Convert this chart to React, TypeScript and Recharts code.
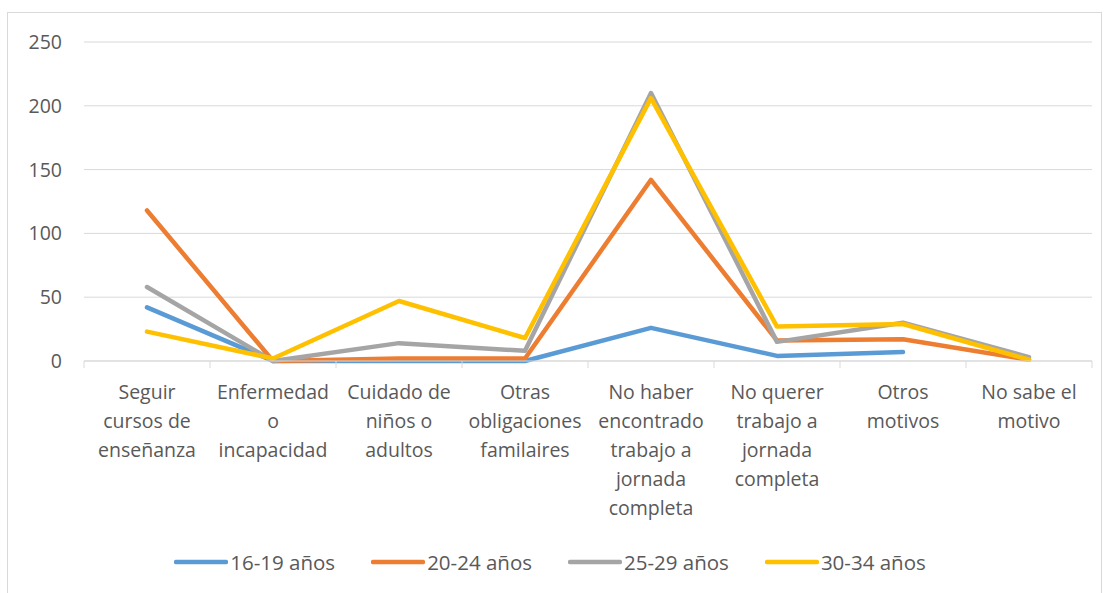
import * as React from 'react';
import { LineChart, Line, XAxis, YAxis, CartesianGrid, Legend } from 'recharts';

const CATEGORIES = [
  'Seguir cursos de enseñanza',
  'Enfermedad o incapacidad',
  'Cuidado de niños o adultos',
  'Otras obligaciones familaires',
  'No haber encontrado trabajo a jornada completa',
  'No querer trabajo a jornada completa',
  'Otros motivos',
  'No sabe el motivo',
];

// how each category label is wrapped under the axis
const CATEGORY_LINES = [
  ['Seguir', 'cursos de', 'enseñanza'],
  ['Enfermedad', 'o', 'incapacidad'],
  ['Cuidado de', 'niños o', 'adultos'],
  ['Otras', 'obligaciones', 'familaires'],
  ['No haber', 'encontrado', 'trabajo a', 'jornada', 'completa'],
  ['No querer', 'trabajo a', 'jornada', 'completa'],
  ['Otros', 'motivos'],
  ['No sabe el', 'motivo'],
];

const AGES_16_19 = [42, 0, 0, 0, 26, 4, 7, null];
const AGES_20_24 = [118, 0, 2, 2, 142, 16, 17, 1];
const AGES_25_29 = [58, 0, 14, 8, 210, 15, 30, 3];
const AGES_30_34 = [23, 2, 47, 18, 206, 27, 29, 1];

const Y_TICKS = [0, 50, 100, 150, 200, 250];

const SERIES = [
  { key: 'a', name: '16-19 años', values: AGES_16_19, color: '#5B9BD5' },
  { key: 'b', name: '20-24 años', values: AGES_20_24, color: '#ED7D31' },
  { key: 'c', name: '25-29 años', values: AGES_25_29, color: '#A5A5A5' },
  { key: 'd', name: '30-34 años', values: AGES_30_34, color: '#FFC000' },
];

const FONT = '"Open Sans", sans-serif';
const TEXT = '#595959';

const data = CATEGORIES.map((name, i) => {
  const row: any = { x: i + 0.5, name };
  SERIES.forEach((s) => {
    row[s.key] = s.values[i];
  });
  return row;
});

// ticks at band edges (integers) draw a tick mark, ticks at band centres draw the label
const X_TICKS: number[] = [];
for (let i = 0; i <= CATEGORIES.length * 2; i++) X_TICKS.push(i / 2);

function CategoryTick(props: any) {
  const { x, y, payload } = props;
  const v = payload.value;
  if (Number.isInteger(v)) {
    return <line x1={x} x2={x} y1={y} y2={y + 7} stroke="#d9d9d9" strokeWidth={1} />;
  }
  const lines = CATEGORY_LINES[Math.floor(v)] || [];
  return (
    <text x={x} y={y} textAnchor="middle" fill={TEXT} fontFamily={FONT} fontSize={19.5}>
      {lines.map((l, i) => (
        <tspan key={i} x={x} dy={i === 0 ? 38 : 29}>
          {l}
        </tspan>
      ))}
    </text>
  );
}

function LegendRow(props: any) {
  const items = props.payload || [];
  return (
    <div style={{ display: 'flex', justifyContent: 'center', gap: 36, fontFamily: FONT, fontSize: 20.5, color: TEXT }}>
      {items.map((it: any) => (
        <div key={it.value} style={{ display: 'flex', alignItems: 'center' }}>
          <svg width={54} height={10} style={{ marginRight: 2 }}>
            <line x1={2} x2={52} y1={5} y2={5} stroke={it.color} strokeWidth={4.5} strokeLinecap="round" />
          </svg>
          <span>{it.value}</span>
        </div>
      ))}
    </div>
  );
}

export default function App() {
  return (
    <div
      style={{
        position: 'absolute',
        left: 7,
        top: 12,
        width: 1093,
        height: 590,
        border: '1px solid #d9d9d9',
        background: '#fff',
      }}
    >
      <LineChart
        width={1093}
        height={578}
        data={data}
        margin={{ top: 29, right: 9, left: 0, bottom: 0 }}
      >
        <CartesianGrid vertical={false} stroke="#d9d9d9" />
        <XAxis
          dataKey="x"
          type="number"
          domain={[0, CATEGORIES.length]}
          ticks={X_TICKS}
          interval={0}
          tickSize={0}
          tickMargin={0}
          tick={<CategoryTick />}
          stroke="#d9d9d9"
          height={202}
        />
        <YAxis
          domain={[0, 250]}
          ticks={Y_TICKS}
          width={76}
          axisLine={false}
          tickLine={false}
          tickSize={0}
          tickMargin={22}
          tick={{ fill: TEXT, fontFamily: FONT, fontSize: 19.5 }}
        />
        <Legend
          verticalAlign="bottom"
          content={<LegendRow />}
          wrapperStyle={{ bottom: 15 }}
        />
        {SERIES.map((s) => (
          <Line
            key={s.key}
            dataKey={s.key}
            name={s.name}
            stroke={s.color}
            strokeWidth={4.5}
            dot={false}
            isAnimationActive={false}
            strokeLinejoin="round"
            strokeLinecap="round"
          />
        ))}
      </LineChart>
    </div>
  );
}
